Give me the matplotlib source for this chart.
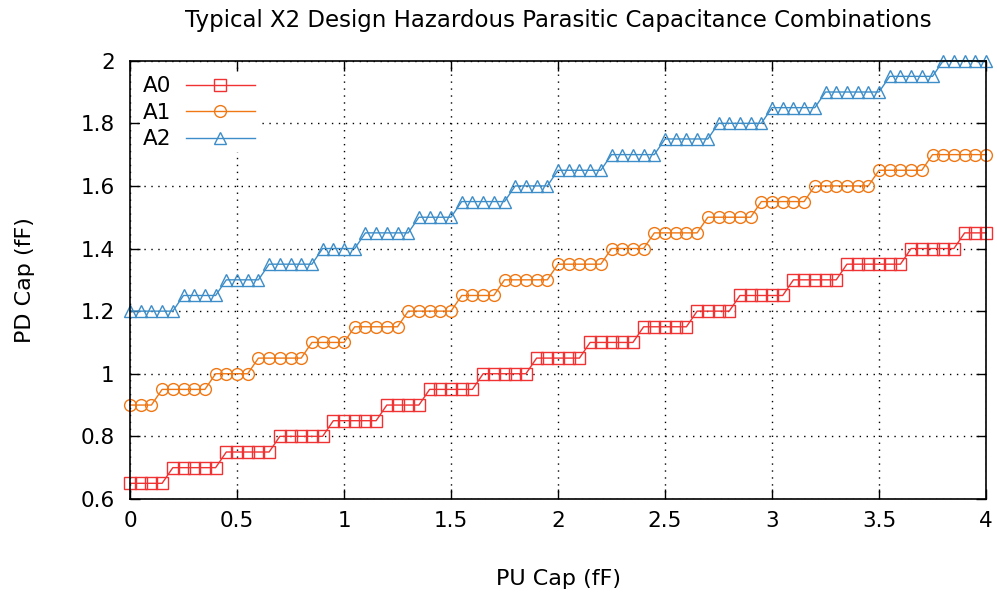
import numpy as np
import matplotlib
matplotlib.use("Agg")
import matplotlib.pyplot as plt

# PU cap sweep (fF)
pu_cap = np.arange(81) * 0.05

# PD cap per series
a0 = [0.65, 0.65, 0.65, 0.65,
      0.70, 0.70, 0.70, 0.70, 0.70,
      0.75, 0.75, 0.75, 0.75, 0.75,
      0.80, 0.80, 0.80, 0.80, 0.80,
      0.85, 0.85, 0.85, 0.85, 0.85,
      0.90, 0.90, 0.90, 0.90,
      0.95, 0.95, 0.95, 0.95, 0.95,
      1.00, 1.00, 1.00, 1.00, 1.00,
      1.05, 1.05, 1.05, 1.05, 1.05,
      1.10, 1.10, 1.10, 1.10, 1.10,
      1.15, 1.15, 1.15, 1.15, 1.15,
      1.20, 1.20, 1.20, 1.20,
      1.25, 1.25, 1.25, 1.25, 1.25,
      1.30, 1.30, 1.30, 1.30, 1.30,
      1.35, 1.35, 1.35, 1.35, 1.35, 1.35,
      1.40, 1.40, 1.40, 1.40, 1.40,
      1.45, 1.45, 1.45]

a1 = [0.90, 0.90, 0.90,
      0.95, 0.95, 0.95, 0.95, 0.95,
      1.00, 1.00, 1.00, 1.00,
      1.05, 1.05, 1.05, 1.05, 1.05,
      1.10, 1.10, 1.10, 1.10,
      1.15, 1.15, 1.15, 1.15, 1.15,
      1.20, 1.20, 1.20, 1.20, 1.20,
      1.25, 1.25, 1.25, 1.25,
      1.30, 1.30, 1.30, 1.30, 1.30,
      1.35, 1.35, 1.35, 1.35, 1.35,
      1.40, 1.40, 1.40, 1.40,
      1.45, 1.45, 1.45, 1.45, 1.45,
      1.50, 1.50, 1.50, 1.50, 1.50,
      1.55, 1.55, 1.55, 1.55, 1.55,
      1.60, 1.60, 1.60, 1.60, 1.60, 1.60,
      1.65, 1.65, 1.65, 1.65, 1.65,
      1.70, 1.70, 1.70, 1.70, 1.70, 1.70]

a2 = [1.20, 1.20, 1.20, 1.20, 1.20,
      1.25, 1.25, 1.25, 1.25,
      1.30, 1.30, 1.30, 1.30,
      1.35, 1.35, 1.35, 1.35, 1.35,
      1.40, 1.40, 1.40, 1.40,
      1.45, 1.45, 1.45, 1.45, 1.45,
      1.50, 1.50, 1.50, 1.50,
      1.55, 1.55, 1.55, 1.55, 1.55,
      1.60, 1.60, 1.60, 1.60,
      1.65, 1.65, 1.65, 1.65, 1.65,
      1.70, 1.70, 1.70, 1.70, 1.70,
      1.75, 1.75, 1.75, 1.75, 1.75,
      1.80, 1.80, 1.80, 1.80, 1.80,
      1.85, 1.85, 1.85, 1.85, 1.85,
      1.90, 1.90, 1.90, 1.90, 1.90, 1.90,
      1.95, 1.95, 1.95, 1.95, 1.95,
      2.00, 2.00, 2.00, 2.00, 2.00]

x_ticks = [0, 0.5, 1, 1.5, 2, 2.5, 3, 3.5, 4]
x_tick_labels = ["0", "0.5", "1", "1.5", "2", "2.5", "3", "3.5", "4"]
y_ticks = [0.6, 0.8, 1.0, 1.2, 1.4, 1.6, 1.8, 2.0]
y_tick_labels = ["0.6", "0.8", "1", "1.2", "1.4", "1.6", "1.8", "2"]

plt.rcParams['font.family'] = ['DejaVu Sans']

fig = plt.figure(figsize=(9.97, 5.94), dpi=100)
ax = fig.add_axes([0.1304, 0.16, 0.8586, 0.7378])

ax.plot(pu_cap, a0, color='#f03232', lw=1, marker='s', ms=8,
        mfc='none', mew=1, label='A0', clip_on=False)
ax.plot(pu_cap, a1, color='#f07814', lw=1, marker='o', ms=8.5,
        mfc='none', mew=1, label='A1', clip_on=False)
ax.plot(pu_cap, a2, color='#3c8dc8', lw=1, marker='^', ms=9,
        mfc='none', mew=1, label='A2', clip_on=False)

ax.set_xlim(0, 4)
ax.set_ylim(0.6, 2.0)
ax.set_xticks(x_ticks)
ax.set_xticklabels(x_tick_labels)
ax.set_yticks(y_ticks)
ax.set_yticklabels(y_tick_labels)
ax.tick_params(direction='in', length=7, width=1, top=True, right=True,
               labelsize=15.5)
ax.tick_params(axis='x', pad=9)
ax.tick_params(axis='y', pad=11)
ax.grid(True, color='black', linestyle=(0, (1, 4)), lw=1)
for s in ax.spines.values():
    s.set_linewidth(1.2)

ax.set_title("Typical X2 Design Hazardous Parasitic Capacitance Combinations",
             fontsize=16.5, pad=24)
ax.set_xlabel("PU Cap (fF)", fontsize=16, labelpad=27)
ax.set_ylabel("PD Cap (fF)", fontsize=16, labelpad=33)

leg = ax.legend(loc='upper left', bbox_to_anchor=(0.012, 0.969),
                markerfirst=False, fontsize=15.5, handlelength=3.2,
                handletextpad=0.7, labelspacing=0.3, borderpad=0.1,
                borderaxespad=0, frameon=True, facecolor='white',
                edgecolor='none', framealpha=1, fancybox=False)

fig.savefig("out.png", dpi=100)
